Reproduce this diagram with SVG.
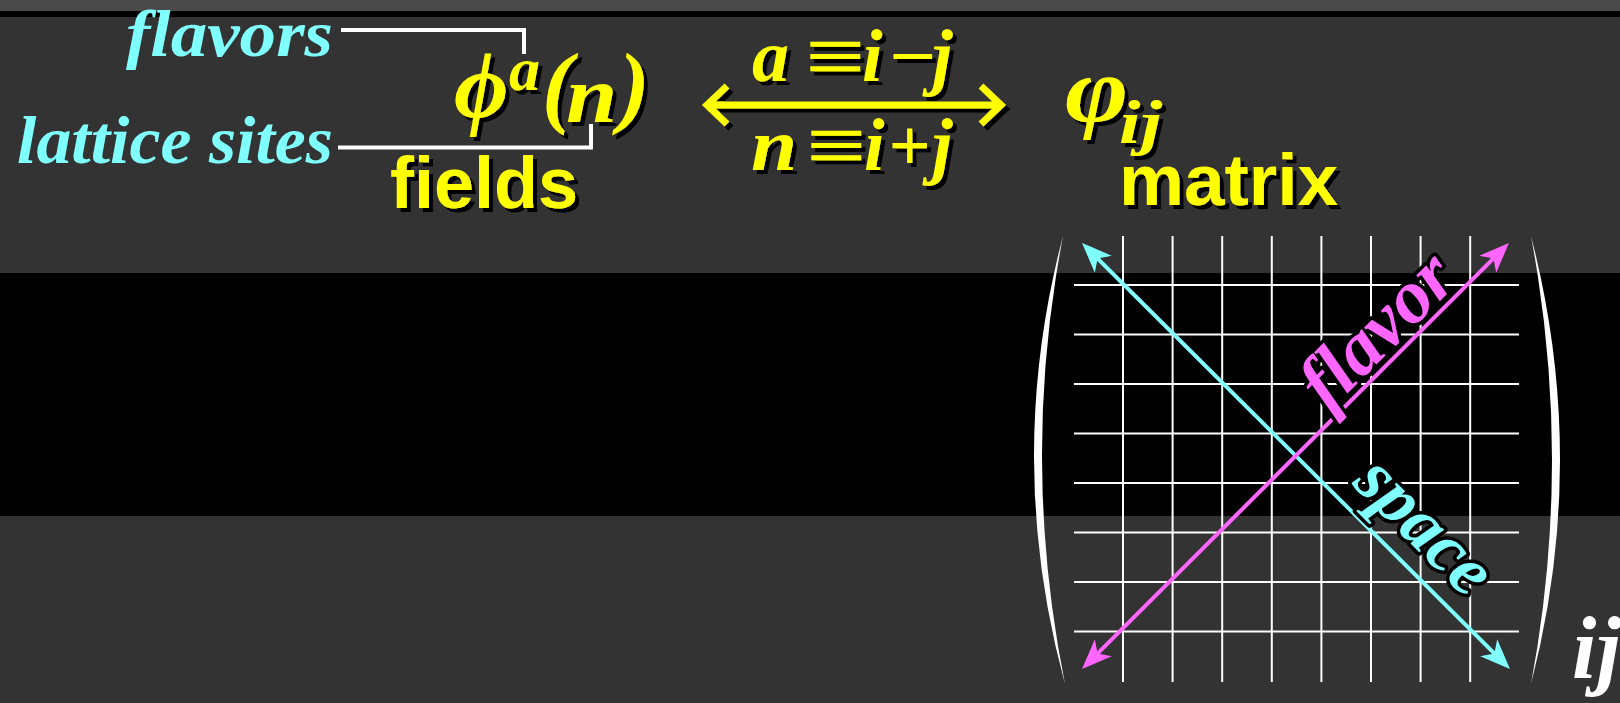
<svg xmlns="http://www.w3.org/2000/svg" width="1620" height="703" viewBox="0 0 1620 703">
<style>
.serif{font-family:"Liberation Serif","Times New Roman",serif;font-style:italic;font-weight:bold}
.sans{font-family:"Liberation Sans",Arial,sans-serif;font-weight:bold}
.cyan{fill:#80ffff}
.yel{fill:#ffff00}
.wl{fill:none;stroke:#fff;stroke-width:4;stroke-linejoin:miter}
.grid line{stroke:#fff;stroke-width:2}
.outl{paint-order:stroke;stroke:#000;stroke-width:7;stroke-linejoin:round}
</style>
<defs>
<filter id="sh" x="-20%" y="-20%" width="140%" height="150%">
<feDropShadow dx="4" dy="4" stdDeviation="0.3" flood-color="#000" flood-opacity="1"/>
</filter>
<marker id="hc" markerUnits="userSpaceOnUse" markerWidth="40" markerHeight="40" refX="-20" refY="0" orient="auto-start-reverse" overflow="visible">
<path d="M0,0 L-30,-12 L-22,0 L-30,12 Z" fill="#80ffff"/>
</marker>
<marker id="hm" markerUnits="userSpaceOnUse" markerWidth="40" markerHeight="40" refX="-20" refY="0" orient="auto-start-reverse" overflow="visible">
<path d="M0,0 L-30,-12 L-22,0 L-30,12 Z" fill="#ff66ff"/>
</marker>
</defs>

<g id="background">
<rect x="0" y="0" width="1620" height="703" fill="#333333"/>
<rect x="0" y="0" width="1620" height="11" fill="#4a4a4a"/>
<rect x="0" y="11" width="1620" height="6" fill="#000"/>
<rect x="0" y="273" width="1620" height="243" fill="#000"/>
</g>

<g id="label-flavors">
<text class="serif cyan" x="333" y="56" font-size="66" text-anchor="end" textLength="207" lengthAdjust="spacingAndGlyphs">flavors</text>
</g>
<g id="label-lattice-sites">
<text class="serif cyan" x="333" y="163" font-size="67" text-anchor="end" textLength="316" lengthAdjust="spacingAndGlyphs">lattice sites</text>
</g>

<g id="field-expression" filter="url(#sh)">
<text class="serif yel" font-size="94" x="454" y="117">ϕ</text>
<text class="serif yel" font-size="62" x="509" y="90">a</text>
<text class="serif yel" font-size="92" x="542" y="116">(</text>
<text class="serif yel" font-size="80" transform="translate(566,122) scale(1.15,1)">n</text>
<text class="serif yel" font-size="92" x="619" y="116">)</text>
</g>
<g id="label-fields" filter="url(#sh)">
<text class="sans yel" x="390" y="208" font-size="72">fields</text>
</g>

<g id="equations" filter="url(#sh)">
<text class="serif yel" font-size="74"><tspan x="752" y="81">a</tspan><tspan x="862" y="81">i</tspan><tspan x="932" y="81">j</tspan></text>
<text class="serif yel" font-size="74" transform="translate(805,81) scale(1.45,1)">≡</text>
<text class="serif yel" font-size="74" transform="translate(887,81) scale(1.12,1)">−</text>
<text class="serif yel" font-size="74" transform="translate(751,170) scale(1.12,1)">n</text>
<text class="serif yel" font-size="74" transform="translate(806,170) scale(1.45,1)">≡</text>
<text class="serif yel" font-size="74"><tspan x="864" y="170">i</tspan><tspan x="888" y="170">+</tspan><tspan x="932" y="170">j</tspan></text>
</g>

<g id="matrix-expression" filter="url(#sh)">
<text class="serif yel" font-size="90" transform="translate(1065,121) scale(1.2,1)">φ</text>
<text class="serif yel" font-size="62" transform="translate(1119,143) scale(1.25,1)">ij</text>
</g>
<g id="label-matrix" filter="url(#sh)">
<text class="sans yel" x="1119" y="205" font-size="73">matrix</text>
</g>

<g id="matrix-grid" class="grid">
<line x1="1123" y1="236" x2="1123" y2="682"/>
<line x1="1172.6" y1="236" x2="1172.6" y2="682"/>
<line x1="1222.2" y1="236" x2="1222.2" y2="682"/>
<line x1="1271.8" y1="236" x2="1271.8" y2="682"/>
<line x1="1321.4" y1="236" x2="1321.4" y2="682"/>
<line x1="1371" y1="236" x2="1371" y2="682"/>
<line x1="1420.6" y1="236" x2="1420.6" y2="682"/>
<line x1="1470.2" y1="236" x2="1470.2" y2="682"/>
<line x1="1074" y1="285" x2="1519" y2="285"/>
<line x1="1074" y1="334.5" x2="1519" y2="334.5"/>
<line x1="1074" y1="384" x2="1519" y2="384"/>
<line x1="1074" y1="433.5" x2="1519" y2="433.5"/>
<line x1="1074" y1="483" x2="1519" y2="483"/>
<line x1="1074" y1="532.5" x2="1519" y2="532.5"/>
<line x1="1074" y1="582" x2="1519" y2="582"/>
<line x1="1074" y1="631.5" x2="1519" y2="631.5"/>
</g>

<g id="matrix-brackets" fill="#fff">
<path d="M1063,236 Q1004,460 1065,684 Q1020,460 1063,236 Z"/>
<path d="M1531,236 Q1589,460 1531,684 Q1573,460 1531,236 Z"/>
</g>
<g id="label-ij">
<text class="serif" x="1572" y="678" font-size="88" fill="#fff">ij</text>
</g>

<g id="connectors">
<polyline class="wl" points="341,30 524,30 524,54"/>
<polyline class="wl" points="338,147.5 591,147.5 591,124"/>
<g filter="url(#sh)">
<path d="M727,86 L707,105 L727,124 M707,105 L1001,105 M981,86 L1001,105 L981,124" fill="none" stroke="#ffff00" stroke-width="7" stroke-linejoin="miter"/>
</g>
<line x1="1096.2" y1="257.1" x2="1495.8" y2="654.9" stroke="#80ffff" stroke-width="4" marker-start="url(#hc)" marker-end="url(#hc)"/>
<line x1="1096.2" y1="654.9" x2="1494.8" y2="257.1" stroke="#ff66ff" stroke-width="4" marker-start="url(#hm)" marker-end="url(#hm)"/>
</g>

<g id="label-flavor">
<text class="serif outl" fill="#ff66ff" font-size="76" text-anchor="middle" transform="translate(1394,347) rotate(-45)">flavor</text>
</g>
<g id="label-space">
<text class="serif outl" fill="#80ffff" font-size="72" text-anchor="middle" transform="translate(1409,542) rotate(45)">space</text>
</g>
</svg>
